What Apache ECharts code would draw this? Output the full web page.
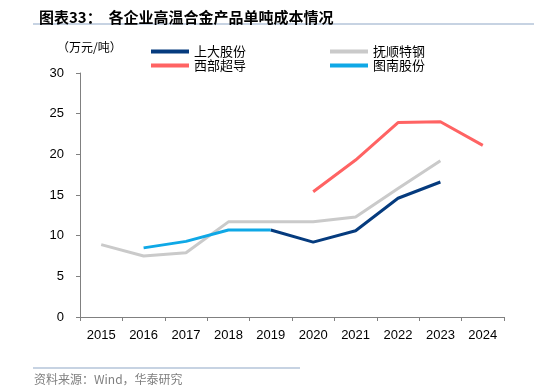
<!DOCTYPE html>
<html>
<head>
<meta charset="utf-8">
<script src="https://cdn.jsdelivr.net/npm/echarts@6/dist/echarts.min.js"></script>
<style>
  html, body { margin: 0; padding: 0; background: #fff; }
  #chart { width: 534px; height: 392px; }
</style>
</head>
<body>
<div id="chart"></div>
<script>
  var years = ["2015", "2016", "2017", "2018", "2019", "2020", "2021", "2022", "2023", "2024"];
  var shangda = [null, null, null, null, 10.7, 9.2, 10.6, 14.6, 16.6, null];
  var fushun = [8.9, 7.5, 7.9, 11.7, 11.7, 11.7, 12.3, 15.8, 19.2, null];
  var xibu = [null, null, null, null, null, 15.4, 19.3, 23.9, 24.0, 21.1];
  var tunan = [null, 8.5, 9.3, 10.7, 10.7, null, null, null, null, null];
  var yTicks = [0, 5, 10, 15, 20, 25, 30];

  var cjk = "'Noto Sans CJK SC', sans-serif";
  var latin = "'Liberation Sans', Arial, sans-serif";

  function lineSeries(name, data, color) {
    return {
      name: name,
      type: "line",
      data: data,
      showSymbol: false,
      symbol: "none",
      connectNulls: false,
      lineStyle: { color: color, width: 3 },
      itemStyle: { color: color },
      emphasis: { disabled: true },
    };
  }

  var myChart = echarts.init(document.getElementById("chart"));
  var option = {
    animation: false,
    title: {
      text: "图表33：  各企业高温合金产品单吨成本情况",
      left: 34,
      top: 5,
      textStyle: { fontFamily: cjk, fontSize: 15, fontWeight: "bold", color: "#000" },
    },
    graphic: [
      { type: "line", shape: { x1: 33, y1: 24, x2: 534, y2: 24 }, style: { stroke: "#8FA7C6", lineWidth: 1 } },
      { type: "line", shape: { x1: 33, y1: 368, x2: 300, y2: 368 }, style: { stroke: "#8FA7C6", lineWidth: 1 } },
      {
        type: "text", left: 34, top: 373,
        style: { text: "资料来源：Wind，华泰研究", font: "12px " + cjk, fill: "#7F7F7F" },
      },
      {
        type: "text", left: 57, top: 41,
        style: { text: "（万元/吨）", font: "12px " + cjk, fill: "#000" },
      },
    ],
    legend: [
      {
        left: 146, top: 40, orient: "vertical", itemGap: 1,
        itemWidth: 38, itemHeight: 4, icon: "rect",
        data: ["上大股份", "西部超导"],
        textStyle: { fontFamily: cjk, fontSize: 13, color: "#000" },
      },
      {
        left: 325, top: 40, orient: "vertical", itemGap: 1,
        itemWidth: 38, itemHeight: 4, icon: "rect",
        data: ["抚顺特钢", "图南股份"],
        textStyle: { fontFamily: cjk, fontSize: 13, color: "#000" },
      },
    ],
    grid: { left: 80, right: 30, top: 73, bottom: 75, containLabel: false },
    xAxis: {
      type: "category",
      data: years,
      boundaryGap: true,
      axisLine: { lineStyle: { color: "#808080", width: 1 } },
      axisTick: { show: true, length: 4, lineStyle: { color: "#808080" } },
      axisLabel: { fontFamily: latin, fontSize: 13, color: "#000", margin: 12 },
      splitLine: { show: false },
    },
    yAxis: {
      type: "value",
      min: yTicks[0],
      max: yTicks[yTicks.length - 1],
      interval: 5,
      axisLine: { show: true, lineStyle: { color: "#808080", width: 1 } },
      axisTick: { show: true, length: 4, lineStyle: { color: "#808080" } },
      axisLabel: { fontFamily: latin, fontSize: 13, color: "#000", margin: 16 },
      splitLine: { show: false },
    },
    series: [
      lineSeries("上大股份", shangda, "#053B7E"),
      lineSeries("抚顺特钢", fushun, "#CACACA"),
      lineSeries("西部超导", xibu, "#FF6363"),
      lineSeries("图南股份", tunan, "#0FA8E6"),
    ],
  };
  // 图南股份 drawn on top of 抚顺特钢 where they cross
  myChart.setOption(option);
</script>
</body>
</html>
